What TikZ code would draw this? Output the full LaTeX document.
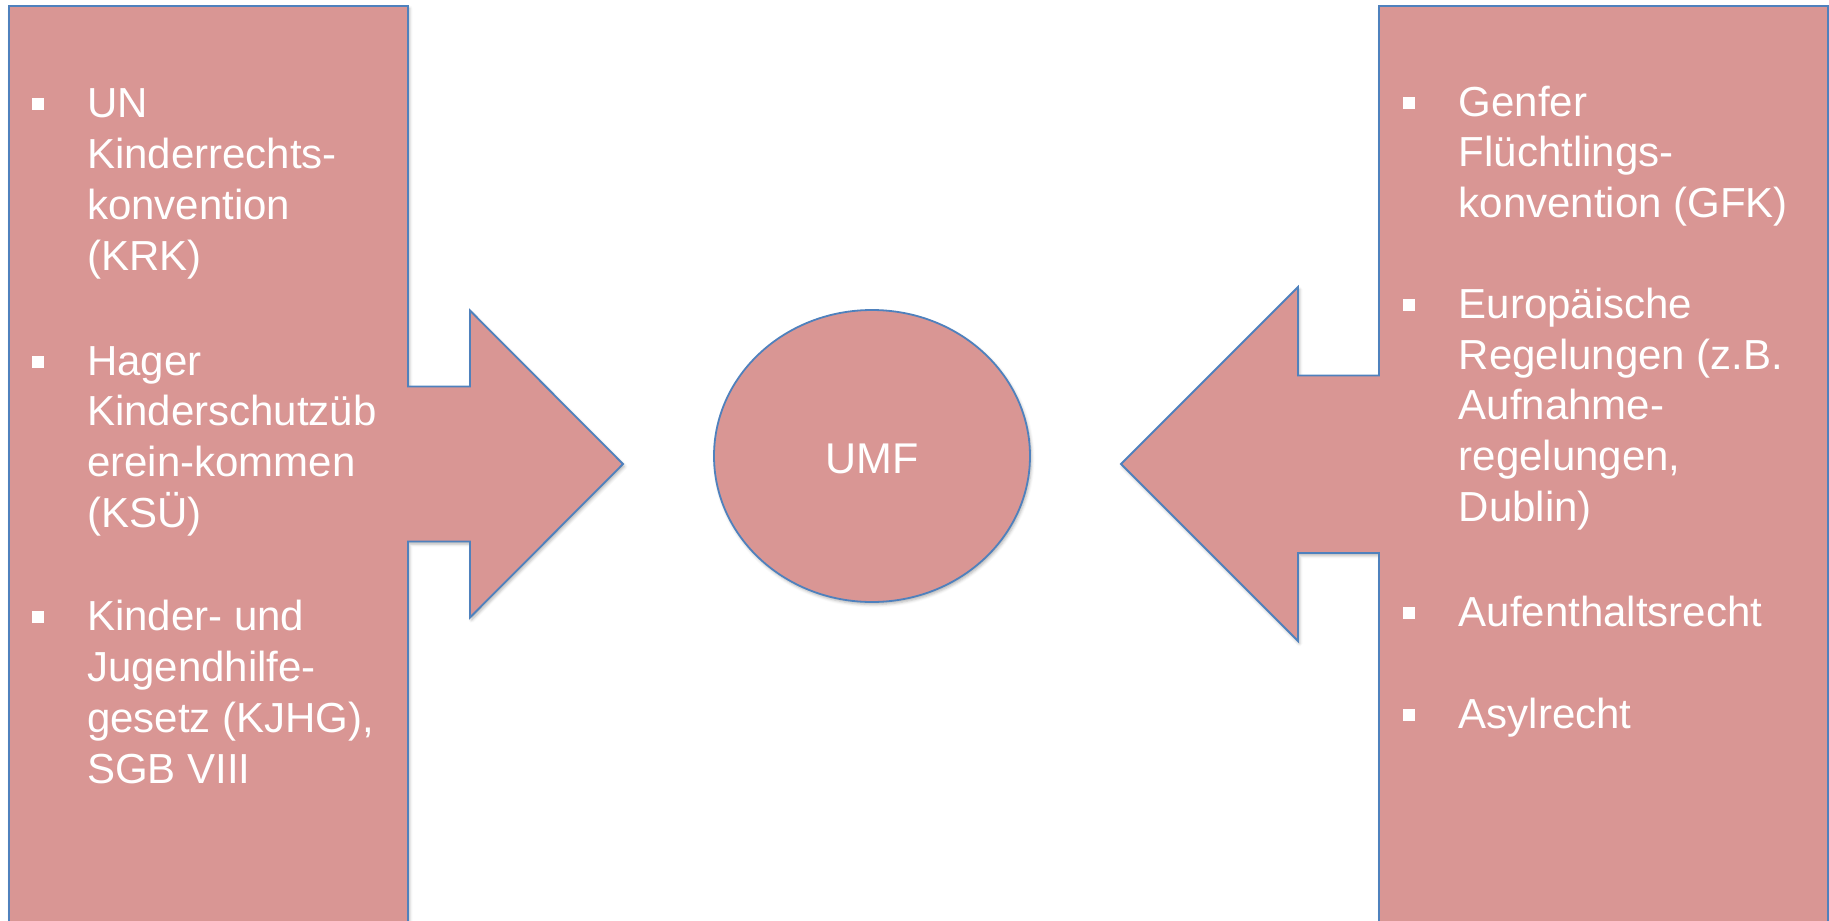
\documentclass[tikz,border=0pt]{standalone}
\usepackage{fontspec}
\setmainfont{Liberation Sans}
\usetikzlibrary{shadows.blur,shapes.geometric}
\definecolor{boxfill}{HTML}{D99694}
\definecolor{boxline}{HTML}{4F81BD}
\tikzset{
  shapefill/.style={fill=boxfill, draw=boxline, line width=1.8pt, line join=miter,
    blur shadow={shadow xshift=1.5pt, shadow yshift=-2.5pt, shadow blur radius=3pt, shadow opacity=30}},
  itemtext/.style={anchor=base west, inner sep=0pt, align=left, text=white,
    font=\fontsize{42}{50.8}\selectfont},
  bulletbox/.style={fill=white, draw=none},
}
\newcommand{\mybullet}[2]{\fill[bulletbox] (#1-6,#2-19.5) rectangle (#1+6,#2-7.5);}
\begin{document}
\begin{tikzpicture}[x=1pt,y=-1pt]
\useasboundingbox (0,0) rectangle (1829,921);
\begin{scope}
\clip (0,0) rectangle (1829,921);
% left arrow callout
\path[shapefill] (9,6) -- (408,6) -- (408,386.5) -- (470,386.5) -- (470,310.5)
  -- (623,464) -- (470,617.5) -- (470,541.5) -- (408,541.5) -- (408,940)
  -- (9,940) -- cycle;
% right arrow callout
\path[shapefill] (1828,6) -- (1379,6) -- (1379,375.5) -- (1298,375.5) -- (1298,287)
  -- (1121,464) -- (1298,641) -- (1298,553) -- (1379,553) -- (1379,940)
  -- (1828,940) -- cycle;
\end{scope}
% center ellipse
\node[shapefill, ellipse, minimum width=316pt, minimum height=292pt, inner sep=0pt]
  (umf) at (872,456) {};
\node[anchor=base, inner sep=0pt, text=white, font=\fontsize{43}{50}\selectfont]
  (umftext) at (872.5,473.3) {UMF};
% left items (node anchored at the baseline of the last line)
\mybullet{37.5}{117.7}
\node[itemtext] (l1) at (87,270.1) {UN\\Kinderrechts-\\konvention\\(KRK)};
\mybullet{37.5}{375}
\node[itemtext] (l2) at (87,527.4) {Hager\\Kinderschutzüb\\erein-kommen\\(KSÜ)};
\mybullet{37.5}{630.7}
\node[itemtext] (l3) at (87,783.1) {Kinder- und\\Jugendhilfe-\\gesetz (KJHG),\\SGB VIII};
% right items
\mybullet{1409}{116}
\node[itemtext] (r1) at (1458.5,217.6) {Genfer\\Flüchtlings-\\konvention (GFK)};
\mybullet{1409}{318.3}
\node[itemtext] (r2) at (1458.5,521.5) {Europäische\\Regelungen (z.B.\\Aufnahme-\\regelungen,\\Dublin)};
\mybullet{1409}{626.7}
\node[itemtext] (r3) at (1458.5,626.7) {Aufenthaltsrecht};
\mybullet{1409}{728.3}
\node[itemtext] (r4) at (1458.5,728.3) {Asylrecht};
\end{tikzpicture}
\end{document}
